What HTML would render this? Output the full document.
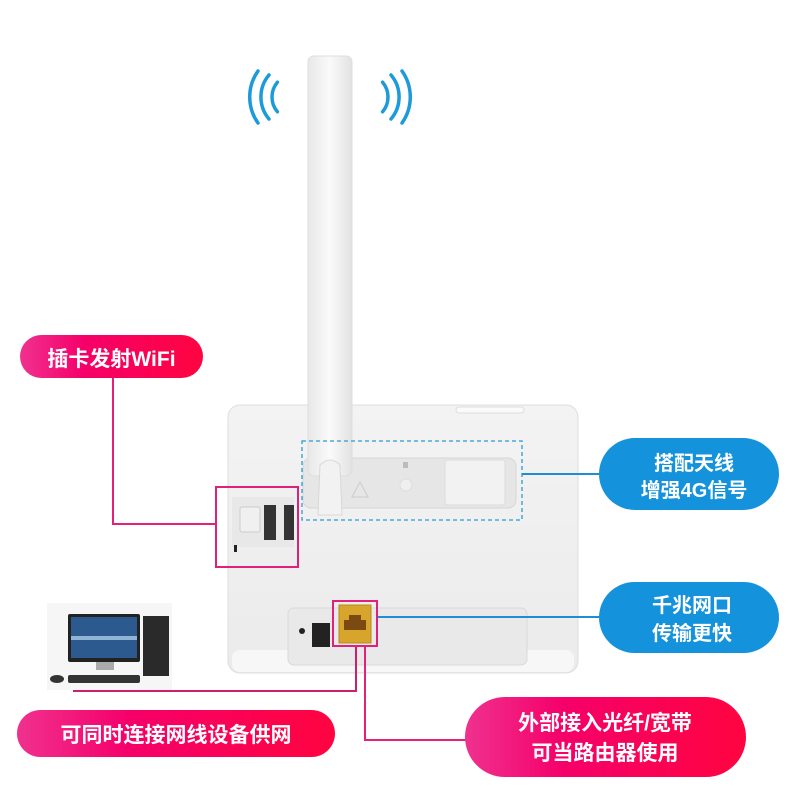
<!DOCTYPE html>
<html><head><meta charset="utf-8"><style>
html,body{margin:0;padding:0;background:#fff;}
svg{display:block}
text{font-family:"Liberation Sans","Noto Sans CJK SC",sans-serif;fill:#fff;font-weight:bold}
</style></head><body>
<svg width="800" height="800" viewBox="0 0 800 800" xmlns="http://www.w3.org/2000/svg">
<defs>
<linearGradient id="pk" x1="0" x2="1" y1="0" y2="0">
<stop offset="0" stop-color="#f0318e"/><stop offset="0.35" stop-color="#f5006a"/><stop offset="1" stop-color="#ff0440"/></linearGradient>
<linearGradient id="body" x1="0" x2="0" y1="0" y2="1">
<stop offset="0" stop-color="#f3f3f3"/><stop offset="1" stop-color="#ebebeb"/></linearGradient>
<linearGradient id="ant" x1="0" x2="1"><stop offset="0" stop-color="#e8e8e8"/><stop offset="0.5" stop-color="#fafafa"/><stop offset="1" stop-color="#e2e2e2"/></linearGradient>
</defs>
<!-- wifi arcs -->
<g fill="none" stroke="#1d9ad9" stroke-width="3.5" stroke-linecap="round">
<path d="M277.4 82.2 A23 23 0 0 0 277.4 111.8"/>
<path d="M269 75 A34 34 0 0 0 269 119"/>
<path d="M258 71 A45 45 0 0 0 258 123"/>
<path d="M382.6 82.2 A23 23 0 0 1 382.6 111.8"/>
<path d="M391 75 A34 34 0 0 1 391 119"/>
<path d="M402 71 A45 45 0 0 1 402 123"/>
</g>
<!-- router body -->
<rect x="228" y="405" width="350" height="268" rx="12" fill="url(#body)" stroke="#dedede"/>
<rect x="232" y="650" width="342" height="22" rx="8" fill="#f7f7f7"/>
<rect x="456" y="407" width="68" height="6" rx="3" fill="#fafafa" stroke="#ddd"/>
<!-- antenna bay -->
<rect x="303" y="458" width="213" height="50" rx="8" fill="#e6e6e6" stroke="#d6d6d6"/>
<rect x="445" y="460" width="60" height="45" rx="3" fill="#f2f2f2" stroke="#dcdcdc"/>
<circle cx="406" cy="485" r="6" fill="#efefef" stroke="#ddd"/>
<rect x="403" y="462" width="5" height="6" fill="#bbb"/>
<path d="M352 497 L360 482 L368 497Z" fill="none" stroke="#ccc"/>
<!-- antenna -->
<rect x="308" y="56" width="44" height="420" rx="6" fill="url(#ant)" stroke="#ddd"/>
<path d="M320 465 Q330 455 340 465 L342 515 L318 515Z" fill="#f2f2f2" stroke="#d8d8d8"/>
<!-- sim slot -->
<rect x="232" y="497" width="62" height="50" fill="#e8e8e8"/>
<rect x="264" y="505" width="12" height="35" fill="#333"/><rect x="284" y="505" width="10" height="35" fill="#333"/>
<rect x="240" y="507" width="20" height="25" rx="2" fill="#f0f0f0" stroke="#ccc"/>
<rect x="234" y="545" width="3" height="7" fill="#222"/>
<!-- bottom panel -->
<rect x="288" y="608" width="239" height="57" rx="6" fill="#e9e9e9" stroke="#d9d9d9"/>
<circle cx="302" cy="631" r="3" fill="#222"/>
<rect x="312" y="623" width="18" height="24" fill="#222"/>
<rect x="339" y="605" width="32" height="38" fill="#d7a52c" stroke="#b58a20"/>
<path d="M344 630 L344 620 L349 620 L349 615 L361 615 L361 620 L366 620 L366 630Z" fill="#7a4a10"/>
<!-- dashed blue box -->
<rect x="302" y="441" width="220" height="79" fill="none" stroke="#2b9ad6" stroke-width="1.3" stroke-dasharray="4,3"/>
<!-- lines -->
<g fill="none" stroke-width="2">
<path d="M522 474 H600" stroke="#1d8fd0"/>
<path d="M377 617 H600" stroke="#1d8fd0"/>
<path d="M113 372 V524 H216" stroke="#e4207a"/>
<path d="M356 646 V691 H73" stroke="#d01e6a"/>
<path d="M365 646 V740 H466" stroke="#e4207a"/>
</g>
<rect x="216" y="487" width="82" height="80" fill="none" stroke="#e0207a" stroke-width="2"/>
<rect x="333" y="601" width="44" height="45" fill="none" stroke="#e0207a" stroke-width="2"/>
<!-- computer -->
<rect x="47" y="603" width="125" height="87" fill="#f6f6f6"/>
<rect x="68" y="614" width="72" height="48" rx="2" fill="#222"/>
<rect x="71" y="617" width="66" height="41" fill="#2c5a8e"/>
<rect x="71" y="636" width="66" height="4" fill="#8fb4d6"/>
<rect x="96" y="662" width="18" height="8" fill="#aaa"/>
<rect x="143" y="616" width="26" height="60" fill="#2a2a2a"/>
<rect x="68" y="675" width="72" height="8" rx="2" fill="#333"/>
<ellipse cx="57" cy="679" rx="7" ry="4" fill="#333"/>
<!-- pills -->
<rect x="20" y="335" width="183" height="43" rx="21.5" fill="url(#pk)"/>
<text x="111.5" y="366" font-size="21" text-anchor="middle">插卡发射WiFi</text>
<rect x="17" y="710" width="318" height="47" rx="23.5" fill="url(#pk)"/>
<text x="176" y="742" font-size="21" text-anchor="middle">可同时连接网线设备供网</text>
<rect x="465" y="697" width="281" height="80" rx="40" fill="url(#pk)"/>
<text x="605" y="730" font-size="21" text-anchor="middle">外部接入光纤/宽带</text>
<text x="605" y="760" font-size="21" text-anchor="middle">可当路由器使用</text>
<rect x="599" y="438" width="180" height="72" rx="36" fill="#1592dc"/>
<text x="694" y="470" font-size="20" text-anchor="middle">搭配天线</text>
<text x="694" y="497" font-size="20" text-anchor="middle">增强4G信号</text>
<rect x="599" y="582" width="180" height="71" rx="35.5" fill="#1592dc"/>
<text x="692" y="612" font-size="20" text-anchor="middle">千兆网口</text>
<text x="692" y="640" font-size="20" text-anchor="middle">传输更快</text>
</svg>
</body></html>
